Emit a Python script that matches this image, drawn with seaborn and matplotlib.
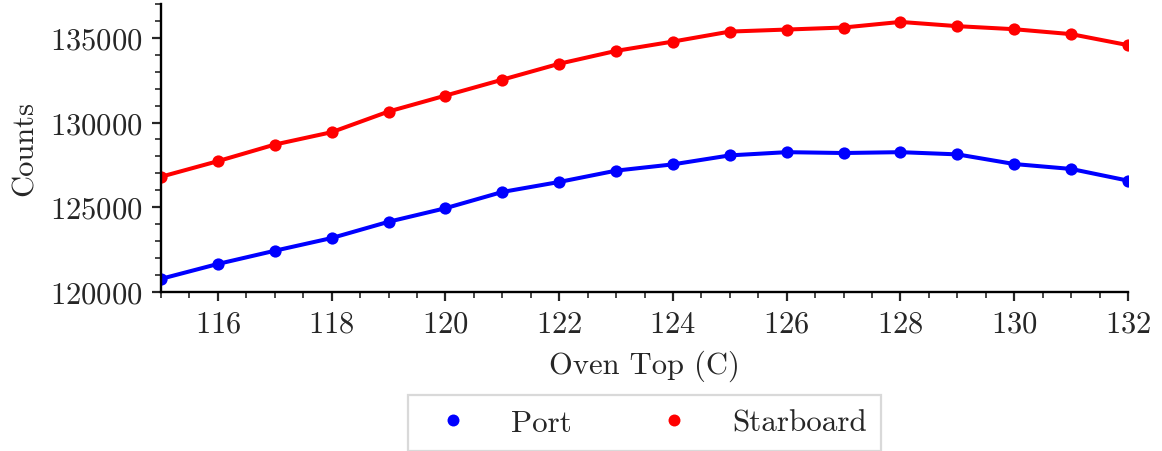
import pandas as pd
import matplotlib
matplotlib.use('Agg')
import matplotlib.pyplot as plt
import seaborn as sns
from matplotlib.lines import Line2D
from matplotlib.ticker import MultipleLocator

# Oven top temperature (C) and measured counts per side
oven_top = [115, 116, 117, 118, 119, 120, 121, 122, 123, 124,
            125, 126, 127, 128, 129, 130, 131, 132]
port = [120770, 121650, 122430, 123180, 124140, 124940, 125900, 126490, 127160,
        127530, 128060, 128250, 128200, 128250, 128120, 127550, 127260, 126570]
starboard = [126800, 127720, 128700, 129430, 130650, 131590, 132530, 133470, 134230,
             134780, 135370, 135490, 135610, 135940, 135690, 135510, 135220, 134570]
sides = ['Port', 'Starboard']
colors = {'Port': 'blue', 'Starboard': 'red'}

df = pd.concat([
    pd.DataFrame({'oven_top': oven_top, 'counts': port, 'side': 'Port'}),
    pd.DataFrame({'oven_top': oven_top, 'counts': starboard, 'side': 'Starboard'}),
])

sns.set_style('ticks')
plt.rcParams['font.family'] = ['cmr10', 'DejaVu Serif']
plt.rcParams['mathtext.fontset'] = 'cm'
plt.rcParams['axes.formatter.use_mathtext'] = True
plt.rcParams['font.size'] = 11

fig = plt.figure(figsize=(5.81, 2.26), dpi=200)
ax = fig.add_axes([0.1386, 0.352, 0.8321, 0.637])

sns.lineplot(data=df, x='oven_top', y='counts', hue='side', palette=colors,
             marker='o', markersize=4.4, markeredgewidth=0, linewidth=1.45,
             legend=False, ax=ax)

ax.set_xlim(115, 132)
ax.set_ylim(120000, 137000)
ax.xaxis.set_major_locator(MultipleLocator(2))
ax.xaxis.set_minor_locator(MultipleLocator(0.5))
ax.yaxis.set_major_locator(MultipleLocator(5000))
ax.yaxis.set_minor_locator(MultipleLocator(1000))
ax.tick_params(which='major', length=3.2, width=0.8, labelsize=11)
ax.tick_params(which='minor', length=2.2, width=0.6)
for s in ['top', 'right']:
    ax.spines[s].set_visible(False)
for s in ['left', 'bottom']:
    ax.spines[s].set_linewidth(0.85)
    ax.spines[s].set_color('black')

ax.set_xlabel('Oven Top (C)', fontsize=11)
ax.set_ylabel('Counts', fontsize=11)

handles = [Line2D([], [], linestyle='none', marker='o', markersize=4.3,
                  markeredgewidth=0, color=colors[s]) for s in sides]
leg = fig.legend(handles, sides, loc='center', bbox_to_anchor=(0.5546, 0.062),
                 ncol=2, frameon=True, fancybox=False, edgecolor='0.85',
                 framealpha=1, columnspacing=2.3, handletextpad=0.85, fontsize=11.2,
                 borderpad=0.45)
leg.get_frame().set_linewidth(0.8)

fig.savefig('out.png', dpi=200)
